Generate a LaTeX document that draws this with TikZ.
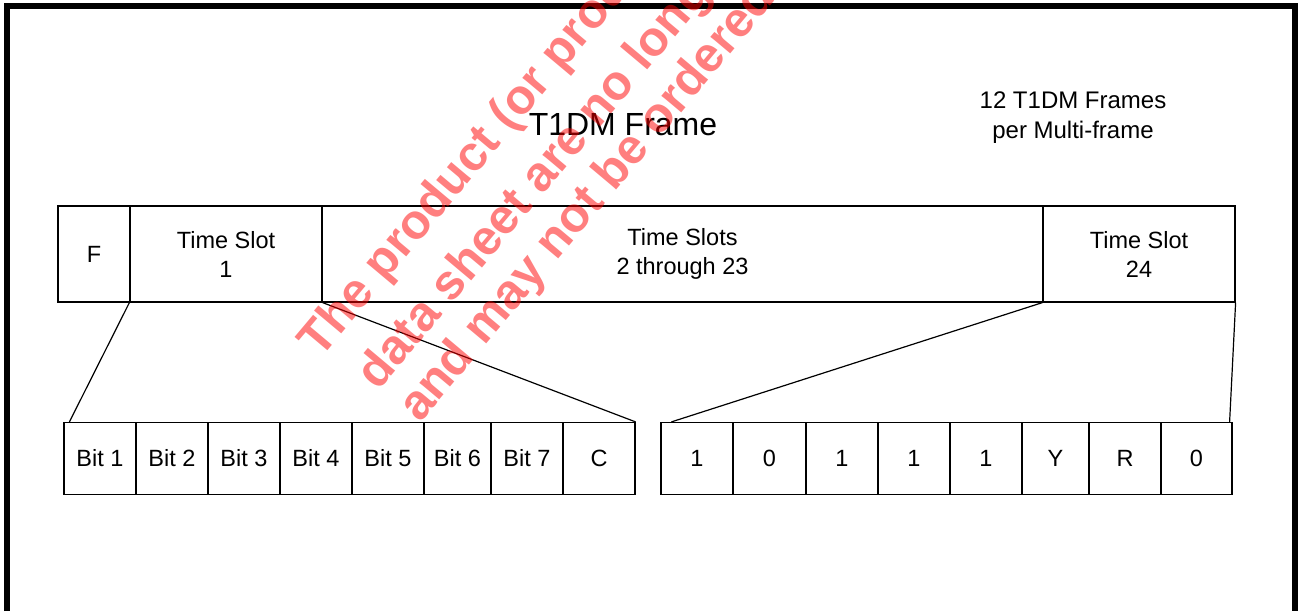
\documentclass[tikz,border=0pt]{standalone}
\usepackage{fontspec}
\setmainfont{Liberation Sans}
\usetikzlibrary{calc}
\begin{document}
\begin{tikzpicture}[x=1pt, y=-1pt,
    slot/.style={draw, line width=1.2pt, inner sep=0pt, minimum height=96pt, align=center, font=\fontsize{23.5}{29}\selectfont},
    bitcell/.style={draw, line width=1.2pt, inner sep=0pt, minimum height=72pt, align=center, font=\fontsize{23.5}{29}\selectfont},
    fan/.style={line width=1.2pt},
    stamp/.style={anchor=base west, rotate=50, text=red, opacity=.5, inner sep=0pt, font=\bfseries\fontsize{49}{56}\selectfont}]
    \useasboundingbox (0,0) rectangle (1298,611);

    % Rahmen
    \draw[line width=6pt] (7,611) -- (7,6) -- (1295,6) -- (1295,611);

    % Titel
    \node[font=\fontsize{32}{36}\selectfont] (title) at (623,125) {T1DM Frame};
    \node[align=center, font=\fontsize{24}{30}\selectfont] (multi) at (1073,118) {12 T1DM Frames\\per Multi-frame};

    % Rahmen mit Zeitschlitzen
    \node[slot, minimum width=72pt] (f) at (94,254) {F};
    \node[slot, minimum width=192pt] (ts1) at (226,254) {Time Slot\\1};
    \node[slot, minimum width=721pt] (ts2) at (682.5,254) {Time Slots\\2 through 23};
    \node[slot, minimum width=192pt] (ts24) at (1139,254) {Time Slot\\24};

    % Bits von Zeitschlitz 1
    \foreach \x/\w/\t [count=\i] in {100/72/Bit 1, 172/72/Bit 2, 244/72/Bit 3, 316/72/Bit 4,
                                     388/72/Bit 5, 457.5/67/Bit 6, 527/72/Bit 7, 599/72/C}
        \node[bitcell, minimum width=\w pt] (b\i) at (\x,458.5) {\t};

    % Bits von Zeitschlitz 24
    \foreach \x/\w/\t [count=\i] in {697/72/1, 769.5/73/0, 842/72/1, 914/72/1,
                                     986/72/1, 1055.5/67/Y, 1125/72/R, 1196.5/71/0}
        \node[bitcell, minimum width=\w pt] (r\i) at (\x,458.5) {\t};

    % Aufweitungen
    \draw[fan] (ts1.south west) -- ($(b1.north west)+(6,0)$);
    \draw[fan] (ts1.south east) -- (b8.north east);
    \draw[fan] (ts24.south west) -- ($(r1.north west)+(11,0)$);
    \draw[fan] (ts24.south east) -- ($(r8.north east)+(-3,0)$);

    % Stempel
    \begin{scope}
        \clip (0,0) rectangle (1298,611);
        \node[stamp] (stamp1) at (320,360) {The product (or products) in this};
        \node[stamp] (stamp2) at (378,392) {data sheet are no longer available};
        \node[stamp] (stamp3) at (420,424) {and may not be ordered};
    \end{scope}
\end{tikzpicture}
\end{document}
